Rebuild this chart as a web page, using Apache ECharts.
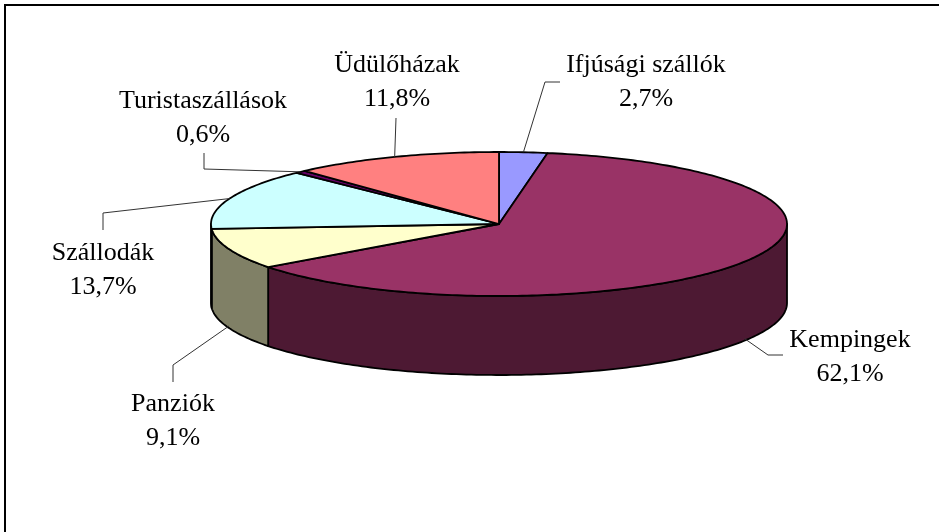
<!DOCTYPE html>
<html>
<head>
<meta charset="utf-8">
<script src="https://cdn.jsdelivr.net/npm/echarts@6/dist/echarts.min.js"></script>
<style>
  html, body { margin: 0; padding: 0; background: #fff; }
  #chart { width: 939px; height: 532px; }
</style>
</head>
<body>
<div id="chart"></div>
<script>
// adatok (a kép alapján)
var names = ['Ifjúsági szállók', 'Kempingek', 'Panziók', 'Szállodák', 'Turistaszállások', 'Üdülőházak'];
var values = [2.7, 62.1, 9.1, 13.7, 0.6, 11.8];
var topColors = ['#9999FF', '#993366', '#FFFFCC', '#CCFFFF', '#660066', '#FF8080'];
var sideColors = ['#4D4D80', '#4D1933', '#808066', '#668080', '#330033', '#804040'];

// felirat elhelyezés: szöveg közepe, töréspontok (a szelet széle számolt)
var labelPos = [[646, 82], [850, 357], [173, 421], [103, 270], [203, 118], [397, 82]];
var leaderPts = [
  [[545, 82], [560, 82]],
  [[768, 355], [783, 355]],
  [[173, 365], [173, 382]],
  [[103, 213], [103, 230]],
  [[204, 169], [204, 153]],
  [[396, 118]]
];

// pite geometria
var cx = 499, cy = 224, rx = 288, ry = 72, depth = 79;

var total = values.reduce(function (a, b) { return a + b; }, 0);
var starts = [];
var acc = 0;
values.forEach(function (v) { starts.push(acc / total * 360); acc += v; });

function pt(deg, dy) {
  var r = deg * Math.PI / 180;
  return [cx + rx * Math.sin(r), cy - ry * Math.cos(r) + (dy || 0)];
}
function arc(a, b, dy) {
  var pts = [];
  var n = Math.max(2, Math.ceil(Math.abs(b - a)));
  for (var i = 0; i <= n; i++) pts.push(pt(a + (b - a) * i / n, dy));
  return pts;
}
function fmt(v) { return v.toFixed(1).replace('.', ',') + '%'; }

var chart = echarts.init(document.getElementById('chart'));

chart.setOption({
  backgroundColor: '#fff',
  animation: false,
  graphic: [{
    type: 'rect',
    shape: { x: 5, y: 5, width: 960, height: 560 },
    style: { fill: 'none', stroke: '#000', lineWidth: 2 },
    z: 0
  }],
  series: [{
    type: 'custom',
    coordinateSystem: 'none',
    data: values.map(function (v, i) { return { value: v, name: names[i] }; }),
    renderItem: function (params, api) {
      var i = params.dataIndex;
      var a = starts[i];
      var b = a + api.value(0) / total * 360;
      var children = [];

      // oldalfal (csak az elülső félen látszik)
      var sa = Math.max(a, 90), sb = Math.min(b, 270);
      if (sb > sa) {
        var top = arc(sa, sb, 0);
        var bottom = arc(sb, sa, depth);
        children.push({
          type: 'polygon',
          shape: { points: top.concat(bottom) },
          style: { fill: sideColors[i], stroke: '#000', lineWidth: 1.8, lineJoin: 'round' }
        });
      }

      // felső lap
      children.push({
        type: 'polygon',
        shape: { points: [[cx, cy]].concat(arc(a, b, 0)) },
        style: { fill: topColors[i], stroke: '#000', lineWidth: 1.8, lineJoin: 'round' }
      });

      // vezetővonal
      var mid = (a + b) / 2;
      var front = mid > 90 && mid < 270;
      var edge = pt(mid, front ? depth - 2 : 0);
      children.push({
        type: 'polyline',
        shape: { points: [edge].concat(leaderPts[i]) },
        style: { fill: null, stroke: '#333', lineWidth: 1 }
      });

      // felirat
      children.push({
        type: 'text',
        x: labelPos[i][0],
        y: labelPos[i][1],
        style: {
          text: api.value(0) !== undefined ? names[i] + '\n' + fmt(values[i]) : '',
          fontFamily: 'Liberation Serif',
          fontSize: 26,
          lineHeight: 34,
          fill: '#000',
          align: 'center',
          verticalAlign: 'middle'
        }
      });

      return { type: 'group', children: children };
    }
  }]
});
</script>
</body>
</html>
